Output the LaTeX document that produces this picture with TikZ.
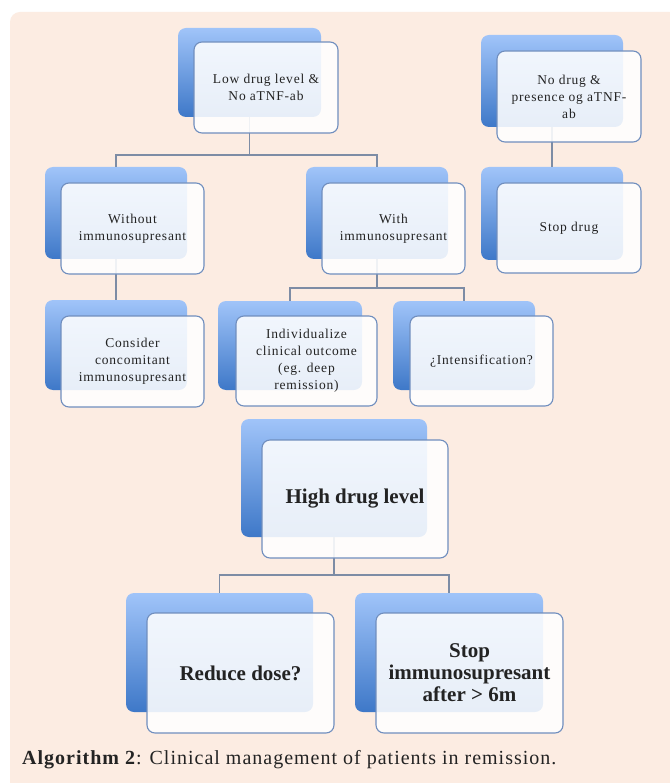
\documentclass[tikz,border=0pt]{standalone}
\usepackage{fontspec}
\setmainfont{Liberation Serif}
\newfontfamily\boxfont{Liberation Serif}[LetterSpace=6]
\newfontfamily\capfont{Liberation Serif}[LetterSpace=5]
\usetikzlibrary{backgrounds}
\definecolor{peach}{RGB}{252,236,226}
\definecolor{bluetop}{RGB}{160,196,249}
\definecolor{bluebot}{RGB}{62,120,200}
\definecolor{frameblue}{RGB}{112,142,190}
\definecolor{connc}{RGB}{125,140,165}
\definecolor{txt}{RGB}{35,35,35}
\tikzset{
  backbox/.style={rounded corners=8pt, top color=bluetop, bottom color=bluebot, draw=none, inner sep=0pt},
  frontbox/.style={rounded corners=8pt, fill=white, fill opacity=0.88, text opacity=1, draw=frameblue, line width=1.1pt, inner sep=2pt, align=center, text=txt},
  small/.style={font=\boxfont\fontsize{13.5}{17}\selectfont},
  big/.style={font=\bfseries\fontsize{21}{22}\selectfont},
  conn/.style={draw=connc, line width=1.4pt}
}
\begin{document}
\begin{tikzpicture}[x=1pt,y=-1pt]
\useasboundingbox (0,0) rectangle (669,783);
\fill[white] (0,0) rectangle (669,783);
\fill[peach, rounded corners=10pt] (10,12) rectangle (690,800);
% back boxes
\node[backbox, minimum width=143pt, minimum height=89pt] (b1) at (249.5,72.5) {};
\node[backbox, minimum width=142pt, minimum height=92pt] (b2) at (552,81) {};
\node[backbox, minimum width=142pt, minimum height=93pt] (b3) at (552,213.5) {};
\node[backbox, minimum width=142pt, minimum height=92pt] (b4) at (116,213) {};
\node[backbox, minimum width=142pt, minimum height=92pt] (b5) at (377,213) {};
\node[backbox, minimum width=142pt, minimum height=90pt] (b6) at (116,345) {};
\node[backbox, minimum width=144pt, minimum height=89pt] (b7) at (290,345.5) {};
\node[backbox, minimum width=142pt, minimum height=89pt] (b8) at (464,345.5) {};
\node[backbox, minimum width=186pt, minimum height=118pt] (b9) at (334,478) {};
\node[backbox, minimum width=187pt, minimum height=119pt] (b10) at (219.5,652.5) {};
\node[backbox, minimum width=188pt, minimum height=119pt] (b11) at (449,652.5) {};
% connectors
\coordinate (j1) at (0,155);
\coordinate (j2) at (0,288);
\coordinate (j3) at (0,575);
\draw[conn] (b1.south) -- (b1.south |- j1) -| (b4.north);
\draw[conn] (b1.south |- j1) -| (b5.north);
\draw[conn] (b2.south) -- (b3.north);
\draw[conn] (b4.south) -- (b6.north);
\draw[conn] (b5.south) -- (b5.south |- j2) -| (b7.north);
\draw[conn] (b5.south |- j2) -| (b8.north);
\draw[conn] (b9.south) -- (b9.south |- j3) -| (b10.north);
\draw[conn] (b9.south |- j3) -| (b11.north);
% front boxes
\node[frontbox, small, minimum width=144pt, minimum height=91pt] (f1) at (266,87.5) {Low drug level \&\\No aTNF-ab};
\node[frontbox, small, minimum width=144pt, minimum height=91pt] (f2) at (569,96.5) {No drug \&\\presence og aTNF-\\ab};
\node[frontbox, small, minimum width=144pt, minimum height=90pt] (f3) at (569,228) {Stop drug};
\node[frontbox, small, minimum width=143pt, minimum height=91pt] (f4) at (132.5,228.5) {Without\\immunosupresant};
\node[frontbox, small, minimum width=143pt, minimum height=91pt] (f5) at (393.5,228.5) {With\\immunosupresant};
\node[frontbox, small, minimum width=143pt, minimum height=91pt] (f6) at (132.5,361.5) {Consider\\concomitant\\immunosupresant};
\node[frontbox, small, minimum width=141pt, minimum height=90pt] (f7) at (306.5,361) {Individualize\\clinical outcome\\(eg. deep\\remission)};
\node[frontbox, small, minimum width=143pt, minimum height=90pt] (f8) at (481.5,361) {¿Intensification?};
\node[frontbox, big, minimum width=186pt, minimum height=118pt] (f9) at (355,499) {High drug level};
\node[frontbox, big, minimum width=187pt, minimum height=120pt] (f10) at (240.5,673) {Reduce dose?};
\node[frontbox, big, minimum width=187pt, minimum height=120pt] (f11) at (469.5,673) {Stop\\immunosupresant\\after > 6m};
% caption
\node[anchor=west, inner sep=0pt, text=txt, font=\capfont\fontsize{20}{24}\selectfont] (cap) at (22,760) {\textbf{Algorithm 2}: Clinical management of patients in remission.};
\end{tikzpicture}
\end{document}
